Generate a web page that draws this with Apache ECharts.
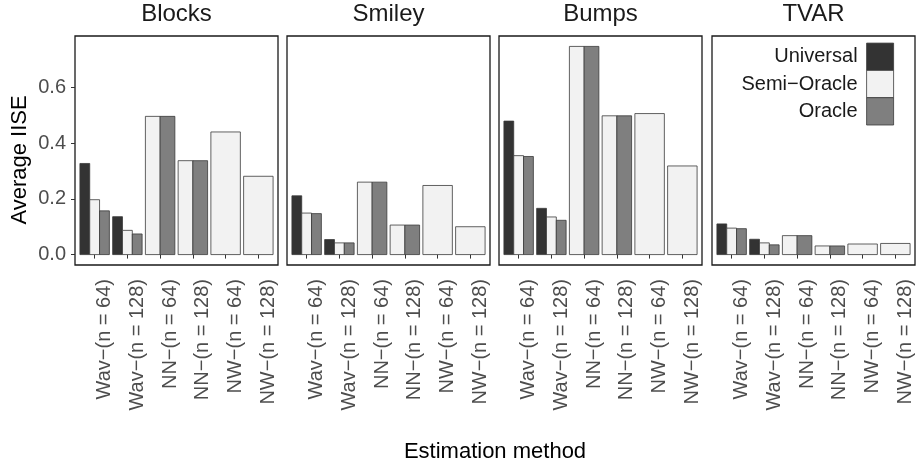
<!DOCTYPE html>
<html>
<head>
<meta charset="utf-8">
<script src="https://cdn.jsdelivr.net/npm/echarts@6/dist/echarts.min.js"></script>
<style>
  html, body { margin: 0; padding: 0; background: #fff; }
  #chart { width: 917px; height: 465px; }
</style>
</head>
<body>
<div id="chart"></div>
<script>
// Datos
const categories = ['Wav\u2212(n = 64)', 'Wav\u2212(n = 128)', 'NN\u2212(n = 64)', 'NN\u2212(n = 128)', 'NW\u2212(n = 64)', 'NW\u2212(n = 128)'];
const facets = ['Blocks', 'Smiley', 'Bumps', 'TVAR'];
const seriesNames = ['Universal', 'Semi\u2212Oracle', 'Oracle'];
const seriesColors = ['#333333', '#f2f2f2', '#7f7f7f'];
const yTicks = [0, 0.2, 0.4, 0.6];

// un arreglo por método, una fila por panel (Blocks, Smiley, Bumps, TVAR)
const universal = [
  [0.327, 0.136, null, null, null, null],
  [0.211, 0.054, null, null, null, null],
  [0.479, 0.166, null, null, null, null],
  [0.110, 0.055, null, null, null, null]
];
const semiOracle = [
  [0.197, 0.087, 0.496, 0.337, 0.440, 0.281],
  [0.149, 0.042, 0.260, 0.106, 0.248, 0.100],
  [0.355, 0.135, 0.747, 0.498, 0.506, 0.318],
  [0.095, 0.042, 0.068, 0.031, 0.038, 0.040]
];
const oracle = [
  [0.157, 0.074, 0.496, 0.337, null, null],
  [0.147, 0.042, 0.260, 0.106, null, null],
  [0.352, 0.123, 0.747, 0.498, null, null],
  [0.093, 0.035, 0.068, 0.031, null, null]
];
const allValues = [universal, semiOracle, oracle];

const FONT = '"Liberation Sans", Arial, Helvetica, sans-serif';
const panelLeft = [75, 287, 499, 712];
const panelWidth = 203;
const panelTop = 36;
const panelHeight = 229;

// rango del eje y como ggplot (expansión 5%)
let maxVal = 0;
allValues.forEach(s => s.forEach(r => r.forEach(v => { if (v != null && v > maxVal) maxVal = v; })));
const yMin = -0.05 * maxVal;
const yMax = maxVal * 1.05;

// barras esquivadas según cuántos métodos tienen valor en cada categoría
function renderBar(params, api) {
  const x = api.value(0);
  const y = api.value(1);
  const slot = api.value(2);
  const n = api.value(3);
  const top = api.coord([x, y]);
  const base = api.coord([x, 0]);
  const band = api.size([1, 0])[0];
  const total = band * 0.9;
  const w = total / n;
  const left = top[0] - total / 2 + slot * w;
  return {
    type: 'rect',
    shape: { x: left, y: top[1], width: w, height: base[1] - top[1] },
    style: { fill: api.visual('color'), stroke: '#3a3a3a', lineWidth: 0.8 }
  };
}

const grids = [], xAxes = [], yAxes = [], series = [], graphics = [];

facets.forEach((f, fi) => {
  grids.push({
    left: panelLeft[fi], top: panelTop, width: panelWidth, height: panelHeight,
    show: true, borderColor: '#1a1a1a', borderWidth: 1.3, backgroundColor: 'transparent'
  });
  xAxes.push({
    type: 'value', gridIndex: fi, min: 0.4, max: 6.6,
    axisLine: { show: false },
    splitLine: { show: false },
    axisTick: { show: true, length: 4, lineStyle: { color: '#333', width: 1 }, customValues: [1, 2, 3, 4, 5, 6] },
    axisLabel: {
      customValues: [1, 2, 3, 4, 5, 6],
      rotate: 90, margin: 14,
      verticalAlign: 'top',
      color: '#4d4d4d', fontSize: 20, fontFamily: FONT,
      formatter: v => categories[Math.round(v) - 1]
    }
  });
  const first = fi === 0;
  yAxes.push({
    type: 'value', gridIndex: fi, min: yMin, max: yMax,
    axisLine: { show: false },
    splitLine: { show: false },
    axisTick: { show: first, length: 4, lineStyle: { color: '#333', width: 1 }, customValues: yTicks },
    axisLabel: {
      show: first, customValues: yTicks, margin: 9,
      color: '#4d4d4d', fontSize: 20, fontFamily: FONT,
      formatter: v => v.toFixed(1)
    }
  });

  // armar los datos del panel
  for (let si = 0; si < 3; si++) {
    const data = [];
    categories.forEach((c, ci) => {
      const present = [];
      for (let k = 0; k < 3; k++) if (allValues[k][fi][ci] != null) present.push(k);
      const v = allValues[si][fi][ci];
      if (v != null) data.push([ci + 1, v, present.indexOf(si), present.length]);
    });
    series.push({
      type: 'custom', name: seriesNames[si],
      xAxisIndex: fi, yAxisIndex: fi,
      itemStyle: { color: seriesColors[si], borderColor: '#3a3a3a', borderWidth: 0.8 },
      encode: { x: 0, y: 1 },
      renderItem: renderBar,
      data: data
    });
  }

  graphics.push({
    type: 'text', left: 'auto',
    x: panelLeft[fi] + panelWidth / 2, y: 14,
    style: { text: f, fill: '#1a1a1a', font: '24px ' + FONT, textAlign: 'center', textVerticalAlign: 'middle' }
  });
});

graphics.push({
  type: 'text', x: 20, y: 160, rotation: Math.PI / 2,
  style: { text: 'Average IISE', fill: '#000', font: '22px ' + FONT, textAlign: 'center', textVerticalAlign: 'middle' }
});
graphics.push({
  type: 'text', x: 495, y: 452,
  style: { text: 'Estimation method', fill: '#000', font: '22px ' + FONT, textAlign: 'center', textVerticalAlign: 'middle' }
});

// una leyenda por elemento para alinear las llaves a la derecha
const legends = seriesNames.map((n, i) => ({
  data: [{ name: n, icon: 'rect', itemStyle: { color: seriesColors[i], borderColor: '#3a3a3a', borderWidth: 0.8 } }],
  orient: 'vertical', align: 'right',
  right: 23, top: 42.7 + i * 27.3, padding: 0,
  itemWidth: 27, itemHeight: 27.3, selectedMode: false,
  textStyle: { fontSize: 20, fontFamily: FONT, color: '#1a1a1a', padding: [0, 4, 0, 0] }
}));

const chart = echarts.init(document.getElementById('chart'), null, { renderer: 'canvas' });
chart.setOption({
  backgroundColor: '#fff',
  animation: false,
  legend: legends,
  grid: grids,
  xAxis: xAxes,
  yAxis: yAxes,
  series: series,
  graphic: graphics
});
</script>
</body>
</html>
